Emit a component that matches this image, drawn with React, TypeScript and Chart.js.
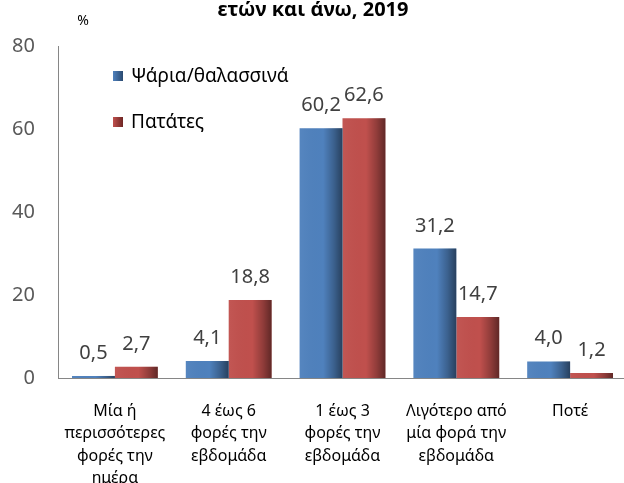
import React, { useEffect, useRef } from "react";
import { Chart, registerables } from "chart.js";

Chart.register(...registerables);

const categories: string[][] = [
  ["Μία ή", "περισσότερες", "φορές την", "ημέρα"],
  ["4 έως 6", "φορές την", "εβδομάδα"],
  ["1 έως 3", "φορές την", "εβδομάδα"],
  ["Λιγότερο από", "μία φορά την", "εβδομάδα"],
  ["Ποτέ"],
];
const fishValues = [0.5, 4.1, 60.2, 31.2, 4.0];
const potatoValues = [2.7, 18.8, 62.6, 14.7, 1.2];
const seriesNames = ["Ψάρια/θαλασσινά", "Πατάτες"];
const yTicks = [0, 20, 40, 60, 80];
const titleText = "ετών και άνω, 2019";
const unitText = "%";

const FONT = "'Noto Sans', 'Open Sans', sans-serif";
const BLUE = "#4F81BD";
const RED = "#C0504D";

const fmt = (v: number) => v.toFixed(1).replace(".", ",");

const overlayPlugin = {
  id: "overlay",
  afterDatasetsDraw(chart: any) {
    const ctx = chart.ctx;
    ctx.save();
    // gradient shading on bars
    chart.data.datasets.forEach((ds: any, di: number) => {
      const meta = chart.getDatasetMeta(di);
      meta.data.forEach((el: any) => {
        const p = el.getProps(["x", "y", "base", "width"], true);
        const left = p.x - p.width / 2;
        const g = ctx.createLinearGradient(left, 0, left + p.width, 0);
        g.addColorStop(0, "rgba(255,255,255,0.04)");
        g.addColorStop(0.55, "rgba(0,0,0,0)");
        g.addColorStop(0.8, "rgba(0,0,0,0.25)");
        g.addColorStop(1, "rgba(0,0,0,0.5)");
        ctx.fillStyle = g;
        ctx.fillRect(left, p.y, p.width, p.base - p.y);
      });
    });
    // value labels
    ctx.font = `20px ${FONT}`;
    ctx.fillStyle = "#404040";
    ctx.textAlign = "center";
    ctx.textBaseline = "alphabetic";
    chart.data.datasets.forEach((ds: any, di: number) => {
      const meta = chart.getDatasetMeta(di);
      meta.data.forEach((el: any, i: number) => {
        const p = el.getProps(["x", "y"], true);
        ctx.fillText(fmt(ds.data[i]), p.x, p.y - 17);
      });
    });
    // legend (inside plot area)
    ctx.font = `19px ${FONT}`;
    ctx.textAlign = "left";
    ctx.textBaseline = "middle";
    chart.data.datasets.forEach((ds: any, di: number) => {
      const cy = 76 + di * 46;
      const g = ctx.createLinearGradient(113, 0, 123, 0);
      g.addColorStop(0, ds.backgroundColor);
      g.addColorStop(1, di === 0 ? "#2A4A70" : "#6E2624");
      ctx.fillStyle = g;
      ctx.fillRect(113, cy - 5, 10, 10);
      ctx.fillStyle = "#000000";
      ctx.fillText(ds.label, 131, cy + 1);
    });
    // title and unit
    ctx.font = `bold 20px ${FONT}`;
    ctx.textAlign = "center";
    ctx.textBaseline = "alphabetic";
    ctx.fillStyle = "#000000";
    ctx.fillText(titleText, 313, 16);
    ctx.font = `14px ${FONT}`;
    ctx.fillText(unitText, 83, 25);
    ctx.restore();
  },
};

export default function App() {
  const ref = useRef<HTMLCanvasElement | null>(null);
  useEffect(() => {
    if (!ref.current) return;
    const chart = new Chart(ref.current, {
      type: "bar",
      data: {
        labels: categories,
        datasets: [
          { label: seriesNames[0], data: fishValues, backgroundColor: BLUE, borderWidth: 0 },
          { label: seriesNames[1], data: potatoValues, backgroundColor: RED, borderWidth: 0 },
        ],
      },
      options: {
        responsive: false,
        animation: false,
        devicePixelRatio: 1,
        layout: { padding: { left: 0, right: 3, top: 46, bottom: 0 } },
        plugins: {
          legend: { display: false },
          title: { display: false },
          tooltip: { enabled: false },
        },
        datasets: {
          bar: { barPercentage: 1, categoryPercentage: 0.754 },
        },
        scales: {
          x: {
            grid: { display: false, drawTicks: false },
            border: { display: true, color: "#868686", width: 1 },
            ticks: {
              color: "#000000",
              font: { family: FONT, size: 16, lineHeight: 1.4 },
              padding: 22,
              maxRotation: 0,
              autoSkip: false,
            },
            afterFit: (s: any) => {
              s.height = 105;
            },
          },
          y: {
            min: 0,
            max: 80,
            afterBuildTicks: (s: any) => {
              s.ticks = yTicks.map((v) => ({ value: v }));
            },
            grid: { display: false, drawTicks: false },
            border: { display: true, color: "#868686", width: 1 },
            ticks: {
              color: "#595959",
              font: { family: FONT, size: 20 },
              padding: 23,
            },
            afterFit: (s: any) => {
              s.width = 58;
            },
          },
        },
      },
      plugins: [overlayPlugin],
    });
    return () => chart.destroy();
  }, []);
  return (
    <div style={{ position: "fixed", left: 0, top: 0, width: 624, height: 483, overflow: "hidden", background: "#fff" }}>
      <canvas ref={ref} width={630} height={483} style={{ width: 630, height: 483, display: "block" }} />
    </div>
  );
}
